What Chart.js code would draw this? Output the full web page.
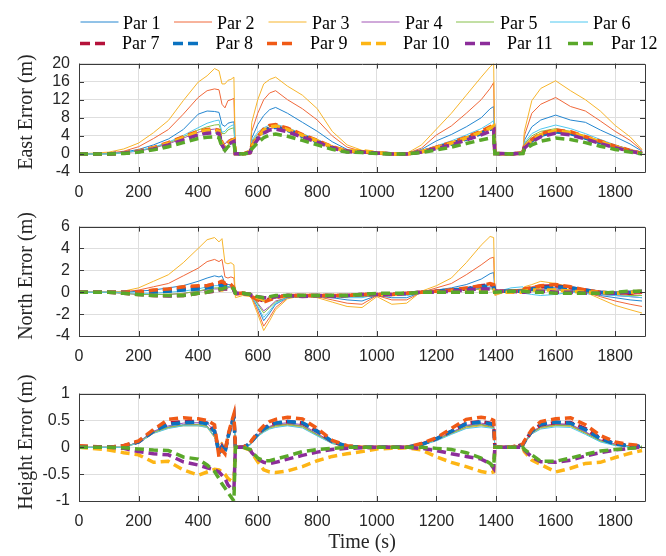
<!DOCTYPE html>
<html>
<head>
<meta charset="utf-8">
<script src="https://cdn.jsdelivr.net/npm/chart.js@4.4.1/dist/chart.umd.min.js"></script>
<style>
    body { margin: 0; background: #fff; }
    #lienzo { position: relative; width: 666px; height: 556px; overflow: hidden; }
    #lienzo canvas { position: absolute; left: 0; }
    #capa { position: absolute; left: 0; top: 0; pointer-events: none; }
</style>
</head>
<body>
<div id="lienzo">
    <canvas id="este" width="666" height="160" style="top:45px"></canvas>
    <canvas id="norte" width="666" height="160" style="top:208px"></canvas>
    <canvas id="altura" width="666" height="181" style="top:375px"></canvas>
    <svg id="capa" width="666" height="556"></svg>
</div>
<script>
// DATOS

var tiempos = [0, 100, 150, 200, 250, 300, 350, 400, 430, 455,
    470, 480, 490, 500, 510, 520, 525, 550, 575, 580,
    600, 620, 640, 660, 700, 750, 800, 850, 900, 950,
    1000, 1050, 1100, 1150, 1200, 1250, 1300, 1350, 1380, 1392,
    1396, 1450, 1490, 1495, 1520, 1550, 1600, 1650, 1700, 1750,
    1800, 1850, 1890];

var nombres = ["Par 1", "Par 2", "Par 3", "Par 4", "Par 5", "Par 6",
    "Par 7", "Par 8", "Par 9", "Par 10", "Par 11", "Par 12"];

// East error (m)
var este1 = [0, 0.1, 0.4, 1, 2, 3.3, 5.4, 8.8, 9.5, 9.4,
    9.2, 6.5, 6.1, 6.8, 7, 7.1, 0.2, 0.1, 0.6, 3.5,
    6.5, 8.5, 9.8, 10.3, 9, 7, 5, 2.7, 1, 0.4,
    0.2, 0.1, 0.1, 1, 2.9, 4.3, 6, 8, 10, 10.5,
    0.2, 0, 0.3, 3, 6, 7.5, 8.6, 7.5, 7, 5.3,
    3.8, 2.2, 0.6];
var este2 = [0, 0.2, 0.6, 1.6, 3.4, 5.4, 8.8, 12.5, 14, 14.4,
    14.2, 11, 10.2, 11.8, 12, 12.3, 0.3, 0.2, 0.8, 5,
    9, 12, 13.5, 14, 12, 10, 7.5, 4, 1.5, 0.6,
    0.2, 0.1, 0.1, 1.3, 4.2, 6.2, 9, 12, 14.5, 15.8,
    0.2, 0, 0.4, 4, 9, 11, 12.5, 10.5, 9.5, 7.3,
    5, 3, 0.8];
var este3 = [0, 0.4, 1.1, 2.4, 4.7, 7.4, 11.8, 15.9, 17.3, 18.9,
    18.4, 15.5, 15.5, 16.3, 16.5, 17, 0.3, 0.2, 1, 7,
    12, 15.5, 16.5, 17, 15, 13, 10, 5, 2, 0.8,
    0.3, 0.1, 0.1, 2, 5.5, 9, 13, 17, 19.3, 20,
    0.2, 0, 0.5, 5, 11.8, 14.5, 16.2, 14, 12, 9.5,
    6.3, 3.8, 1];
var este4 = [0, 0, 0.3, 0.6, 1.3, 2.2, 3.5, 4.8, 5.3, 5.5,
    5.5, 3, 2.2, 3, 3.3, 3.5, 0.2, 0.1, 0.5, 2.5,
    4, 5, 5.6, 5.8, 5.2, 4, 2.8, 1.4, 0.6, 0.4,
    0.2, 0.1, 0.1, 0.6, 1.5, 2.4, 3.6, 4.8, 5.5, 5.8,
    0.2, 0, 0.3, 2, 3.5, 4.2, 5, 4.5, 3.5, 2.4,
    1.5, 0.8, 0.2];
var este5 = [0, 0, 0.3, 0.7, 1.4, 2.4, 3.8, 5.3, 6, 6.4,
    6.5, 4.5, 4.5, 5.3, 5.6, 5.8, 0.2, 0.1, 0.5, 2.8,
    4.3, 5.4, 6, 6.2, 5.5, 4.2, 3, 1.6, 0.6, 0.4,
    0.2, 0.1, 0.1, 0.6, 1.6, 2.6, 3.8, 5, 5.8, 6.2,
    0.2, 0, 0.3, 2.2, 4, 5, 5.6, 5, 4, 2.8,
    1.8, 0.9, 0.2];
var este6 = [0, 0, 0.3, 0.7, 1.5, 2.6, 4.1, 5.8, 6.8, 7.3,
    7.5, 4.8, 5, 5.8, 6.2, 6.5, 0.2, 0.1, 0.5, 3,
    4.8, 5.8, 6.4, 6.6, 5.8, 4.5, 3.2, 1.6, 0.6, 0.4,
    0.2, 0.1, 0.1, 0.7, 1.8, 2.9, 4.2, 5.6, 6.8, 7.4,
    0.2, 0, 0.3, 2.5, 4.5, 5.5, 6.4, 5.6, 4.5, 3.2,
    2, 1, 0.2];
var este7 = [0, 0, 0.2, 0.6, 1.3, 2.3, 3.5, 4.6, 5, 5,
    4.8, 2.2, 1.2, 2.2, 2.8, 3, 0.1, 0, 0.3, 1.6,
    3.5, 5, 5.8, 6, 5.3, 4, 2.8, 1.5, 0.6, 0.5,
    0.2, 0, 0, 0.5, 1.4, 2.3, 3.4, 4.6, 5.5, 6,
    0.1, 0, 0.2, 1.5, 3, 4.2, 5, 4.6, 3.6, 2.6,
    1.6, 0.7, 0.1];
var este8 = [0, 0, 0.2, 0.5, 1.2, 2.2, 3.4, 4.5, 4.9, 5,
    4.7, 2, 1, 2, 2.6, 2.9, 0.1, 0, 0.3, 1.5,
    3.4, 4.9, 5.7, 5.9, 5.2, 3.9, 2.7, 1.4, 0.5, 0.4,
    0.2, 0, 0, 0.5, 1.3, 2.2, 3.3, 4.5, 5.4, 5.8,
    0.1, 0, 0.2, 1.4, 2.9, 4.1, 4.9, 4.5, 3.5, 2.5,
    1.5, 0.6, 0.1];
var este9 = [0, 0, 0.2, 0.6, 1.4, 2.5, 3.8, 5, 5.4, 5.5,
    5.2, 2.4, 1.3, 2.4, 3, 3.2, 0.1, 0, 0.3, 1.8,
    3.8, 5.5, 6.3, 6.5, 5.7, 4.3, 3, 1.6, 0.6, 0.5,
    0.2, 0, 0, 0.5, 1.5, 2.5, 3.7, 5, 6, 6.5,
    0.1, 0, 0.2, 1.6, 3.2, 4.5, 5.3, 4.9, 3.8, 2.8,
    1.7, 0.8, 0.1];
var este10 = [0, 0, 0.2, 0.6, 1.3, 2.3, 3.6, 4.8, 5.2, 5.3,
    5, 2.3, 1.2, 2.2, 2.8, 3.1, 0.1, 0, 0.3, 1.6,
    3.6, 5.2, 6, 6.2, 5.4, 4.1, 2.9, 1.5, 0.6, 0.7,
    0.3, 0, 0, 0.5, 1.4, 2.4, 3.5, 4.8, 5.7, 6.2,
    0.1, 0, 0.2, 1.5, 3.1, 4.3, 5.1, 4.7, 3.7, 2.7,
    1.6, 0.7, 0.1];
var este11 = [0, 0, 0.2, 0.5, 1.1, 2, 3.1, 4.2, 4.6, 4.7,
    4.5, 2, 0.9, 1.8, 2.5, 2.8, 0.1, 0, 0.3, 1.4,
    3.2, 4.6, 5.3, 5.5, 4.9, 3.7, 2.6, 1.3, 0.5, 0.4,
    0.2, 0, 0, 0.4, 1.2, 2, 3.1, 4.2, 5, 5.4,
    0.1, 0, 0.2, 1.3, 2.7, 3.8, 4.6, 4.2, 3.3, 2.3,
    1.4, 0.6, 0.1];
var este12 = [0, 0, 0.1, 0.4, 0.9, 1.6, 2.5, 3.4, 3.7, 3.8,
    3.6, 1.5, 0.8, 1.6, 2.1, 2.4, 0.1, 0, 0.2, 1.1,
    2.5, 3.6, 4.2, 4.4, 3.9, 3, 2, 1, 0.4, 0.3,
    0.1, 0, 0, 0.3, 0.9, 1.5, 2.3, 3.1, 3.5, 3.9,
    0.1, 0, 0.1, 1, 2, 2.8, 3.5, 3.2, 2.5, 1.7,
    1, 0.4, 0];

// North error (m)
var norte1 = [0, 0, 0, 0.1, 0.2, 0.4, 0.6, 1, 1.3, 1.5,
    1.4, 1.5, 0.8, 0.7, 0.7, 0.6, -0.2, -0.2, -0.3, -0.4,
    -1.4, -2.6, -1.9, -1.1, -0.5, -0.3, -0.4, -0.5, -0.7, -0.8,
    -0.3, -0.5, -0.5, 0, 0.2, 0.4, 0.7, 1.2, 1.7, 1.8,
    0, 0.2, 0.1, 0.3, 0.3, 0.5, 0.4, 0.2, -0.1, -0.3,
    -0.5, -0.7, -0.8];
var norte2 = [0, 0, 0.05, 0.2, 0.5, 0.8, 1.5, 2.2, 2.8, 3,
    2.8, 3, 1.4, 1.3, 1.4, 1.3, -0.3, -0.2, -0.3, -0.5,
    -1.7, -3.1, -2.3, -1.4, -0.5, -0.3, -0.4, -0.7, -1, -1.1,
    -0.3, -0.7, -0.7, 0, 0.4, 0.8, 1.6, 2.5, 3.1, 3.2,
    -0.2, 0.2, 0.2, 0.4, 0.5, 0.7, 0.6, 0.4, 0, -0.4,
    -0.8, -1.1, -1.3];
var norte3 = [0, 0, 0.1, 0.4, 1, 1.6, 2.7, 4, 4.8, 5,
    4.6, 4.9, 2.7, 2.6, 2.7, 2.5, -0.5, -0.3, -0.4, -0.6,
    -2, -3.5, -2.6, -1.6, -0.6, -0.3, -0.5, -0.9, -1.3, -1.4,
    -0.4, -1.1, -1, 0.1, 0.6, 1.3, 2.7, 4.3, 5.1, 5,
    -0.3, 0.2, 0.3, 0.5, 0.7, 1, 0.8, 0.5, 0, -0.6,
    -1.2, -1.6, -1.9];
var norte4 = [0, 0, -0.1, -0.2, -0.2, -0.2, -0.1, 0.1, 0.2, 0.3,
    0.3, 0.4, 0.3, 0.4, 0.5, 0.4, -0.1, -0.1, -0.2, -0.3,
    -1, -1.7, -1.3, -0.8, -0.5, -0.4, -0.4, -0.4, -0.4, -0.4,
    -0.3, -0.3, -0.2, -0.1, 0, 0.1, 0.2, 0.3, 0.4, 0.4,
    0, 0.2, 0.1, 0.1, 0.2, 0.3, 0.3, 0.1, 0, -0.2,
    -0.3, -0.4, -0.5];
var norte5 = [0, 0, -0.1, -0.2, -0.2, -0.2, -0.1, 0.1, 0.3, 0.4,
    0.4, 0.5, 0.4, 0.5, 0.6, 0.5, -0.1, -0.1, -0.2, -0.3,
    -1.1, -1.9, -1.4, -0.9, -0.5, -0.4, -0.4, -0.4, -0.4, -0.4,
    -0.3, -0.3, -0.2, -0.1, 0, 0.1, 0.2, 0.3, 0.3, 0.3,
    0, 0.1, 0.1, 0.1, 0.1, 0.2, 0.2, 0.1, 0, -0.1,
    -0.2, -0.3, -0.3];
var norte6 = [0, 0, 0, -0.1, -0.1, 0, 0.1, 0.3, 0.5, 0.6,
    0.6, 0.7, 0.5, 0.5, 0.5, 0.4, -0.1, -0.1, -0.3, -0.4,
    -1.3, -2.3, -1.7, -1, -0.5, -0.3, -0.4, -0.4, -0.5, -0.5,
    -0.2, -0.3, -0.3, -0.1, 0, 0.1, 0.2, 0.4, 0.5, 0.5,
    0, 0.4, 0.5, -0.1, -0.2, -0.3, -0.2, 0, -0.1, -0.2,
    -0.3, -0.4, -0.5];
var norte7 = [0, 0, 0, 0, 0.1, 0.2, 0.3, 0.5, 0.6, 0.7,
    0.8, 0.8, 0.7, 0.6, 0.6, 0.3, -0.1, -0.1, -0.2, -0.3,
    -0.6, -0.8, -0.6, -0.4, -0.3, -0.3, -0.3, -0.3, -0.3, -0.2,
    -0.2, -0.2, -0.1, 0, 0.1, 0.2, 0.3, 0.6, 0.7, 0.6,
    0.1, 0.1, 0.1, 0.2, 0.3, 0.5, 0.6, 0.4, 0.2, 0,
    -0.1, -0.1, 0];
var norte8 = [0, 0, 0, -0.1, 0, 0.1, 0.2, 0.3, 0.4, 0.5,
    0.6, 0.6, 0.5, 0.5, 0.5, 0.3, -0.1, -0.1, -0.2, -0.3,
    -0.5, -0.7, -0.5, -0.4, -0.3, -0.3, -0.3, -0.3, -0.3, -0.2,
    -0.2, -0.2, -0.1, 0, 0.1, 0.2, 0.3, 0.5, 0.6, 0.5,
    0.1, 0.1, 0.1, 0.2, 0.3, 0.4, 0.5, 0.4, 0.2, 0,
    -0.1, 0, 0.1];
var norte9 = [0, 0, 0, 0, 0.2, 0.3, 0.5, 0.6, 0.6, 0.8,
    0.9, 1, 0.8, 0.9, 0.7, 0.4, -0.1, -0.1, -0.2, -0.4,
    -0.7, -0.9, -0.7, -0.5, -0.3, -0.3, -0.3, -0.3, -0.3, -0.2,
    -0.2, -0.2, -0.1, 0, 0.1, 0.2, 0.4, 0.6, 0.8, 0.7,
    0.1, 0.1, 0.1, 0.3, 0.4, 0.6, 0.7, 0.5, 0.2, 0,
    -0.1, -0.1, 0];
var norte10 = [0, 0, -0.1, -0.2, -0.3, -0.3, -0.3, -0.1, 0, 0.1,
    0.2, 0.2, 0.3, 0.3, 0.4, 0.3, -0.1, -0.1, -0.2, -0.3,
    -0.5, -0.7, -0.5, -0.4, -0.3, -0.3, -0.3, -0.3, -0.3, -0.2,
    -0.2, -0.2, -0.1, 0, 0, 0.1, 0.1, 0.2, 0.2, 0.2,
    0, 0, 0, 0.1, 0.2, 0.2, 0.2, 0.1, 0, 0,
    -0.1, 0, 0.1];
var norte11 = [0, 0, -0.1, -0.2, -0.3, -0.35, -0.3, -0.1, 0, 0.1,
    0.2, 0.3, 0.3, 0.3, 0.2, 0.2, -0.1, -0.1, -0.2, -0.3,
    -0.4, -0.5, -0.5, -0.4, -0.3, -0.4, -0.3, -0.4, -0.3, -0.2,
    -0.2, -0.2, -0.1, 0, 0, 0.1, 0.2, 0.3, 0.3, 0.2,
    0.1, 0.1, 0, 0, 0.1, 0.1, 0, 0, -0.1, -0.1,
    -0.1, 0, 0.1];
var norte12 = [0, 0, -0.1, -0.2, -0.3, -0.3, -0.3, -0.1, 0, 0.2,
    0.3, 0.3, 0.4, 0.5, 0.5, 0.3, -0.1, -0.1, -0.2, -0.3,
    -0.4, -0.5, -0.4, -0.3, -0.3, -0.3, -0.3, -0.3, -0.3, -0.2,
    -0.1, -0.1, -0.1, 0, 0, 0, 0, 0, 0, 0,
    0, 0.1, 0.1, 0.1, 0, 0, -0.1, -0.1, -0.1, -0.1,
    0, 0.1, 0.1];

// Height error (m)
var alt1 = [0, 0, 0, 0.1, 0.29, 0.38, 0.42, 0.43, 0.4, 0.2,
    -0.1, 0.02, -0.05, 0.2, 0.4, 0.58, 0, 0, 0.06, 0.1,
    0.22, 0.31, 0.38, 0.41, 0.44, 0.4, 0.24, 0.08, 0.01, 0,
    0, 0, 0, 0.05, 0.15, 0.27, 0.4, 0.43, 0.4, 0.38,
    0, 0, 0.05, 0.08, 0.28, 0.38, 0.43, 0.42, 0.28, 0.13,
    0.05, 0.02, 0];
var alt2 = [0, 0, 0, 0.09, 0.27, 0.37, 0.41, 0.42, 0.39, 0.19,
    -0.08, 0.03, -0.04, 0.2, 0.39, 0.56, 0, 0, 0.05, 0.09,
    0.21, 0.3, 0.37, 0.4, 0.43, 0.39, 0.23, 0.08, 0.01, 0,
    0, 0, 0, 0.05, 0.14, 0.26, 0.38, 0.42, 0.39, 0.37,
    0, 0, 0.05, 0.08, 0.27, 0.37, 0.42, 0.41, 0.27, 0.12,
    0.05, 0.02, 0];
var alt3 = [0, 0, 0, 0.08, 0.26, 0.36, 0.4, 0.4, 0.37, 0.18,
    0.05, 0.1, -0.02, 0.2, 0.38, 0.55, 0, 0, 0.05, 0.09,
    0.2, 0.29, 0.35, 0.38, 0.41, 0.37, 0.22, 0.07, 0.01, 0,
    0, 0, 0, 0.04, 0.13, 0.25, 0.36, 0.4, 0.37, 0.36,
    0, 0, 0.04, 0.07, 0.25, 0.35, 0.4, 0.39, 0.26, 0.11,
    0.04, 0.01, 0];
var alt4 = [0, 0, 0, 0.1, 0.3, 0.4, 0.45, 0.46, 0.45, 0.3,
    -0.05, 0.03, -0.03, 0.22, 0.41, 0.57, 0, 0, 0.06, 0.1,
    0.23, 0.32, 0.39, 0.43, 0.46, 0.42, 0.26, 0.09, 0.02, 0,
    0, 0, 0, 0.05, 0.15, 0.28, 0.41, 0.45, 0.42, 0.4,
    0, 0, 0.05, 0.09, 0.29, 0.39, 0.44, 0.43, 0.29, 0.14,
    0.06, 0.02, 0];
var alt5 = [0, 0, 0, 0.09, 0.28, 0.37, 0.41, 0.42, 0.39, 0.2,
    -0.08, 0.02, -0.05, 0.19, 0.38, 0.55, 0, 0, 0.05, 0.09,
    0.21, 0.3, 0.36, 0.4, 0.42, 0.39, 0.23, 0.08, 0.01, 0,
    0, 0, 0, 0.04, 0.14, 0.26, 0.38, 0.42, 0.38, 0.37,
    0, 0, 0.04, 0.08, 0.27, 0.37, 0.41, 0.4, 0.26, 0.12,
    0.04, 0.02, 0];
var alt6 = [0, 0, 0, 0.08, 0.26, 0.35, 0.4, 0.4, 0.37, 0.2,
    -0.08, 0.02, -0.05, 0.18, 0.37, 0.54, 0, 0, 0.04, 0.08,
    0.2, 0.28, 0.34, 0.37, 0.4, 0.36, 0.21, 0.07, 0.01, 0,
    0, 0, 0, 0.04, 0.12, 0.24, 0.35, 0.38, 0.36, 0.35,
    0, 0, 0.04, 0.07, 0.25, 0.34, 0.38, 0.37, 0.24, 0.1,
    0.03, 0.01, 0];
var alt7 = [0.02, 0, 0.03, 0.1, 0.3, 0.45, 0.48, 0.48, 0.45, 0.3,
    -0.1, 0.02, -0.08, 0.2, 0.4, 0.58, 0, 0, 0.07, 0.12,
    0.25, 0.35, 0.42, 0.45, 0.48, 0.45, 0.3, 0.1, 0.02, 0,
    0, 0, 0, 0.06, 0.16, 0.3, 0.45, 0.48, 0.45, 0.42,
    0, 0, 0.05, 0.1, 0.3, 0.42, 0.46, 0.46, 0.35, 0.17,
    0.07, 0.03, 0.02];
var alt8 = [0, 0, 0.02, 0.1, 0.3, 0.43, 0.46, 0.47, 0.44, 0.3,
    -0.12, 0, -0.1, 0.18, 0.38, 0.56, 0, 0, 0.07, 0.11,
    0.24, 0.34, 0.41, 0.45, 0.48, 0.46, 0.3, 0.11, 0.02, 0,
    0, 0, 0, 0.05, 0.16, 0.3, 0.44, 0.47, 0.44, 0.42,
    0, 0, 0.05, 0.1, 0.3, 0.43, 0.47, 0.45, 0.33, 0.16,
    0.06, 0.03, 0.01];
var alt9 = [0.03, 0, 0.03, 0.12, 0.33, 0.52, 0.55, 0.53, 0.5, 0.42,
    -0.18, -0.05, -0.12, 0.22, 0.43, 0.62, 0, 0, 0.08, 0.13,
    0.28, 0.4, 0.48, 0.52, 0.56, 0.53, 0.35, 0.13, 0.03, 0,
    0, 0, 0, 0.07, 0.18, 0.35, 0.52, 0.56, 0.53, 0.5,
    0, 0, 0.06, 0.12, 0.33, 0.48, 0.53, 0.55, 0.42, 0.22,
    0.1, 0.05, 0.03];
var alt10 = [0, -0.05, -0.1, -0.14, -0.28, -0.26, -0.42, -0.52, -0.46, -0.41,
    -0.42, -0.46, -0.5, -0.58, -0.62, -0.65, 0, 0, -0.05, -0.1,
    -0.27, -0.42, -0.46, -0.47, -0.44, -0.36, -0.25, -0.17, -0.12, -0.08,
    -0.03, -0.02, -0.01, -0.05, -0.18, -0.28, -0.36, -0.45, -0.48, -0.46,
    0, 0, 0, -0.08, -0.24, -0.32, -0.46, -0.39, -0.3, -0.28,
    -0.19, -0.11, -0.06];
var alt11 = [0, 0, -0.02, -0.08, -0.12, -0.14, -0.27, -0.33, -0.38, -0.42,
    -0.46, -0.52, -0.58, -0.7, -0.76, -0.8, 0, 0, -0.05, -0.1,
    -0.22, -0.28, -0.3, -0.28, -0.22, -0.15, -0.09, -0.04, -0.02, -0.01,
    0, 0, 0, -0.02, -0.06, -0.12, -0.17, -0.22, -0.3, -0.39,
    0, 0, 0, -0.05, -0.18, -0.27, -0.28, -0.24, -0.16, -0.1,
    -0.05, -0.02, 0.01];
var alt12 = [0, 0, -0.01, -0.03, -0.05, -0.06, -0.18, -0.22, -0.33, -0.45,
    -0.58, -0.68, -0.76, -0.84, -0.92, -1, 0, 0, -0.04, -0.08,
    -0.2, -0.25, -0.25, -0.22, -0.16, -0.08, -0.04, -0.02, 0, 0,
    0, 0, 0, 0, -0.02, -0.04, -0.1, -0.2, -0.3, -0.37,
    0, 0, 0, -0.04, -0.14, -0.26, -0.26, -0.2, -0.13, -0.07,
    -0.04, -0.02, 0];

// ESTILO

var colores = ["#2486d0", "#f0683a", "#f7b52c", "#a155b5", "#86c04a", "#4fc8f0",
    "#b5123a", "#0a72c0", "#f05a16", "#fdb515", "#8c2d9a", "#5aa82a"];
var serif = "'Liberation Serif', 'Times New Roman', serif";
var sans = "'Liberation Sans', Arial, sans-serif";

Chart.defaults.font.family = sans;
Chart.defaults.font.size = 16;
Chart.defaults.color = "#262626";

/**
 * Caja y marcas de los ejes hacia dentro, como en MATLAB
 */
var cajaMatlab = {
    id: "cajaMatlab",
    afterDraw: function (chart) {
        var ctx = chart.ctx;
        var a = chart.chartArea;
        var ex = chart.scales.x;
        var ey = chart.scales.y;
        ctx.save();
        ctx.strokeStyle = "#3a3a3a";
        ctx.lineWidth = 1;
        ctx.beginPath();
        ex.ticks.forEach(function (t) {
            var px = Math.round(ex.getPixelForValue(t.value)) + 0.5;
            ctx.moveTo(px, a.bottom);
            ctx.lineTo(px, a.bottom - 5);
            ctx.moveTo(px, a.top);
            ctx.lineTo(px, a.top + 5);
        });
        ey.ticks.forEach(function (t) {
            var py = Math.round(ey.getPixelForValue(t.value)) + 0.5;
            ctx.moveTo(a.left, py);
            ctx.lineTo(a.left + 5, py);
            ctx.moveTo(a.right, py);
            ctx.lineTo(a.right - 5, py);
        });
        ctx.rect(Math.round(a.left) + 0.5, Math.round(a.top) + 0.5,
            Math.round(a.right - a.left), Math.round(a.bottom - a.top));
        ctx.stroke();
        ctx.restore();
    },
};

// numeros sin separador de miles, como en MATLAB
function etiqueta(v) {
    return String(Math.round(v * 100) / 100);
}

function creaSeries(valores) {
    return valores.map(function (serie, i) {
        var fina = i < 6;
        return {
            label: nombres[i],
            data: serie.map(function (v, k) { return { x: tiempos[k], y: v }; }),
            borderColor: colores[i],
            backgroundColor: colores[i],
            borderWidth: fina ? 1 : 3.5,
            borderDash: fina ? [] : [9, 5],
            pointRadius: 0,
            fill: false,
            order: 11 - i,
        };
    });
}

function cargaGrafico(id, valores, minY, maxY, pasoY, margenSup, altoEjeX, tituloX) {
    new Chart(document.getElementById(id), {
        type: "line",
        data: { datasets: creaSeries(valores) },
        plugins: [cajaMatlab],
        options: {
            responsive: false,
            animation: false,
            layout: { padding: { top: margenSup, right: 21, left: 0, bottom: 0 } },
            plugins: { legend: { display: false }, tooltip: { enabled: false } },
            scales: {
                x: {
                    type: "linear",
                    min: 0,
                    max: 1900,
                    afterFit: function (s) { s.height = altoEjeX; },
                    grid: { color: "#dedede", drawTicks: false },
                    border: { display: false },
                    ticks: {
                        stepSize: 200, includeBounds: false, maxRotation: 0,
                        autoSkip: false, padding: 11, callback: etiqueta,
                    },
                    title: {
                        display: !!tituloX,
                        text: tituloX || "",
                        font: { family: serif, size: 20, lineHeight: 1 },
                        padding: { top: 0, bottom: 3 },
                    },
                },
                y: {
                    min: minY,
                    max: maxY,
                    afterFit: function (s) { s.width = 79; },
                    grid: { color: "#dedede", drawTicks: false },
                    border: { display: false },
                    ticks: { stepSize: pasoY, padding: 9, autoSkip: false, callback: etiqueta },
                },
            },
        },
    });
}

/**
 * Leyenda y titulos de los ejes Y
 */
function cargaLeyenda() {
    var ns = "http://www.w3.org/2000/svg";
    var capa = document.getElementById("capa");
    var lineaX = [80.5, 174, 268.5, 361.5, 456, 550, 80, 173, 267, 361, 465, 568];
    var textoX = [123, 217, 312, 405, 500, 593, 122, 215.5, 310, 403, 507, 611];

    function nodo(tipo, attrs, texto) {
        var n = document.createElementNS(ns, tipo);
        for (var k in attrs) { n.setAttribute(k, attrs[k]); }
        if (texto) { n.textContent = texto; }
        capa.appendChild(n);
        return n;
    }

    nombres.forEach(function (nombre, i) {
        var fila2 = i >= 6;
        var yl = fila2 ? 43.5 : 22;
        nodo("line", {
            x1: lineaX[i], x2: lineaX[i] + (fila2 ? 30 : 38), y1: yl, y2: yl,
            stroke: colores[i],
            "stroke-width": fila2 ? 3.5 : 1,
            "stroke-dasharray": fila2 ? "10 5" : "none",
        });
        nodo("text", {
            x: textoX[i], y: fila2 ? 48.5 : 28.5,
            "font-family": serif, "font-size": 18, fill: "#000",
        }, nombre);
    });

    [["East Error (m)", 112], ["North Error (m)", 276], ["Height Error (m)", 442]].forEach(function (t) {
        nodo("text", {
            transform: "translate(25," + t[1] + ") rotate(-90)",
            "text-anchor": "middle", "dominant-baseline": "central",
            "font-family": serif, "font-size": 20, fill: "#262626",
        }, t[0]);
    });
}

cargaGrafico("este", [este1, este2, este3, este4, este5, este6, este7, este8, este9, este10, este11, este12],
    -4, 20, 4, 8, 33);
cargaGrafico("norte", [norte1, norte2, norte3, norte4, norte5, norte6, norte7, norte8, norte9, norte10, norte11, norte12],
    -4, 6, 2, 9, 32);
cargaGrafico("altura", [alt1, alt2, alt3, alt4, alt5, alt6, alt7, alt8, alt9, alt10, alt11, alt12],
    -1, 1, 0.5, 8, 55, "Time (s)");
cargaLeyenda();
</script>
</body>
</html>
